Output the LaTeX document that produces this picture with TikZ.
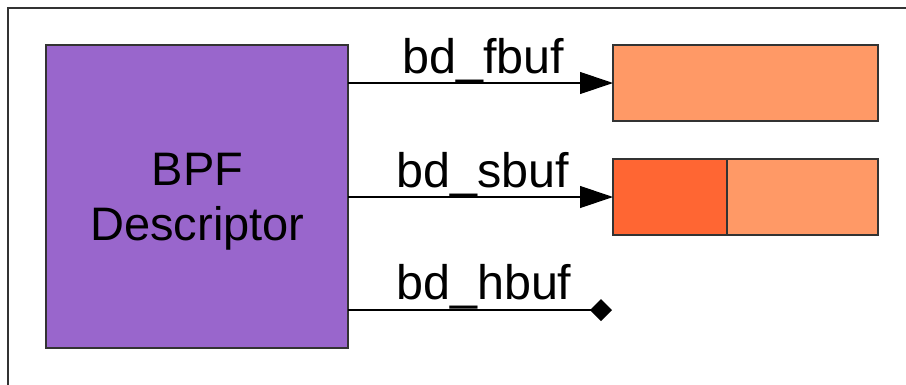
\documentclass[tikz,border=0pt]{standalone}
\usepackage{fontspec}
\setmainfont{Liberation Sans}
\usetikzlibrary{arrows.meta}
\definecolor{descfill}{HTML}{9966CC}
\definecolor{buflight}{HTML}{FF9966}
\definecolor{bufdark}{HTML}{FF6633}
\definecolor{edge}{HTML}{333333}
\begin{document}
\begin{tikzpicture}[x=1pt,y=-1pt,
  box/.style={draw=edge,line width=1.6pt,inner sep=0pt,outer sep=0pt},
  conn/.style={line width=1.2pt,black},
  lbl/.style={anchor=base west,inner sep=0pt,font=\fontsize{48.5}{55}\selectfont}]
  \useasboundingbox (0,0) rectangle (906,384);
  % outer frame, running past the right and bottom edges
  \draw[edge,line width=2.2pt] (920,8) -- (8,8) -- (8,400);

  % descriptor block
  \node[box,fill=descfill,minimum width=302pt,minimum height=303pt] (desc) at (197,196.5) {};
  \node[align=center,inner sep=0pt,font=\fontsize{47}{55}\selectfont,anchor=base]
        (desctext) at (197.5,240) {BPF\\Descriptor};

  % buffers
  \node[box,fill=buflight,minimum width=265pt,minimum height=76pt,anchor=north west] (fbuf) at (613,45) {};
  \node[box,fill=bufdark,minimum width=114pt,minimum height=76pt,anchor=north west] (sbufa) at (613,159) {};
  \node[box,fill=buflight,minimum width=151pt,minimum height=76pt,anchor=north west] (sbufb) at (727,159) {};

  % connectors
  \coordinate (f0) at (desc.east |- fbuf.west);
  \coordinate (s0) at (desc.east |- sbufa.west);
  \coordinate (h0) at (348,310);
  \coordinate (h1) at (612,310);
  \draw[conn,-{Triangle[length=33pt,width=22pt]}] (f0) -- (fbuf.west);
  \draw[conn,-{Triangle[length=33pt,width=22pt]}] (s0) -- (sbufa.west);
  \draw[conn,-{Diamond[length=22pt,width=22pt]}] (h0) -- (h1);

  % labels
  \node[lbl] (lf) at (402,73) {bd\_fbuf};
  \node[lbl] (ls) at (396,187) {bd\_sbuf};
  \node[lbl] (lh) at (396,299) {bd\_hbuf};
\end{tikzpicture}
\end{document}
